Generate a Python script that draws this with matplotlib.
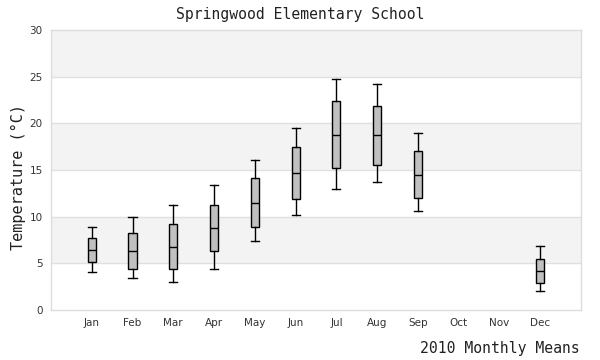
import matplotlib
matplotlib.use("Agg")
import matplotlib.pyplot as plt

months = ["Jan", "Feb", "Mar", "Apr", "May", "Jun", "Jul", "Aug", "Sep", "Oct", "Nov", "Dec"]
present = ["Jan", "Feb", "Mar", "Apr", "May", "Jun", "Jul", "Aug", "Sep", "Dec"]
whislo = [4.04, 3.39, 2.96, 4.36, 7.36, 10.14, 12.93, 13.68, 10.57, 2.0]
q1 = [5.11, 4.36, 4.36, 6.32, 8.86, 11.86, 15.18, 15.5, 11.96, 2.86]
med = [6.43, 6.32, 6.71, 8.75, 11.43, 14.64, 18.71, 18.71, 14.43, 4.14]
q3 = [7.68, 8.21, 9.18, 11.21, 14.11, 17.43, 22.36, 21.82, 17.0, 5.43]
whishi = [8.93, 9.93, 11.21, 13.36, 16.04, 19.46, 24.71, 24.18, 19.0, 6.89]
yticks = [0, 5, 10, 15, 20, 25, 30]

fig = plt.figure(figsize=(6, 3.6), dpi=100)
ax = fig.add_axes([51/600, 50/360, 530/600, 280/360])

for i in range(len(yticks) - 1):
    if i % 2 == 1:
        ax.axhspan(yticks[i], yticks[i+1], color="#f3f3f3", zorder=0, lw=0)
for y in yticks[1:-1]:
    ax.axhline(y, color="#e0e0e0", lw=1, zorder=1)

stats = []
for m, lo, a, md, b, hi in zip(present, whislo, q1, med, q3, whishi):
    stats.append(dict(label=m, whislo=lo, q1=a, med=md, q3=b, whishi=hi, fliers=[]))
positions = [months.index(m) + 1 for m in present]
ax.bxp(stats, positions=positions, widths=0.2, patch_artist=True, showfliers=False,
       boxprops=dict(facecolor="#c0c0c0", edgecolor="black", lw=1),
       medianprops=dict(color="black", lw=1),
       whiskerprops=dict(color="black", lw=1),
       capprops=dict(color="black", lw=1), capwidths=0.2, zorder=3)

ax.set_xlim(0, 13)
ax.set_ylim(0, 30)
ax.set_xticks(range(1, 13))
ax.set_xticklabels(months)
ax.set_yticks(yticks)
ax.tick_params(length=0, labelsize=7.5, colors="#333333", pad=6)
for s in ax.spines.values():
    s.set_color("#dddddd")
    s.set_linewidth(1)

mono = "DejaVu Sans Mono"
fig.text(0.5, 1 - 15/360, "Springwood Elementary School", ha="center", va="center",
         family=mono, fontsize=10.6, color="#222222")
fig.text(18/600, 1 - 177/360, "Temperature (°C)", rotation=90, ha="center", va="center",
         family=mono, fontsize=11, color="#222222")
fig.text(580/600, 1 - 348/360, "2010 Monthly Means", ha="right", va="center",
         family=mono, fontsize=10.6, color="#222222")

fig.savefig("out.png", dpi=100)
